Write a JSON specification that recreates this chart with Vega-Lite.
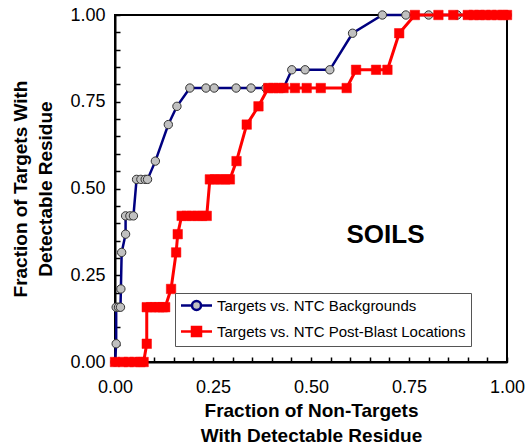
{
  "$schema": "https://vega.github.io/schema/vega-lite/v6.json",
  "width": 392,
  "height": 347,
  "autosize": {"type": "none"},
  "padding": {"left": 115, "top": 15, "right": 19, "bottom": 85},
  "background": "white",
  "config": {
    "view": {"stroke": "black", "strokeWidth": 2},
    "font": "Liberation Sans",
    "axis": {
      "grid": false,
      "domainColor": "black",
      "domainWidth": 2,
      "tickColor": "black",
      "tickWidth": 1.5,
      "tickSize": -5,
      "labelFont": "Liberation Sans",
      "labelFontSize": 18,
      "labelColor": "black",
      "titleFont": "Liberation Sans",
      "titleFontSize": 19,
      "titleFontWeight": "bold",
      "titleColor": "black",
      "titleLineHeight": 25
    }
  },
  "data": {
    "values": [
      {"series": "Targets vs. NTC Backgrounds", "i": 0, "x": 0.0, "y": 0.0},
      {"series": "Targets vs. NTC Backgrounds", "i": 1, "x": 0.003, "y": 0.0526},
      {"series": "Targets vs. NTC Backgrounds", "i": 2, "x": 0.003, "y": 0.1579},
      {"series": "Targets vs. NTC Backgrounds", "i": 3, "x": 0.009, "y": 0.1579},
      {"series": "Targets vs. NTC Backgrounds", "i": 4, "x": 0.014, "y": 0.1579},
      {"series": "Targets vs. NTC Backgrounds", "i": 5, "x": 0.015, "y": 0.2105},
      {"series": "Targets vs. NTC Backgrounds", "i": 6, "x": 0.017, "y": 0.3158},
      {"series": "Targets vs. NTC Backgrounds", "i": 7, "x": 0.027, "y": 0.3684},
      {"series": "Targets vs. NTC Backgrounds", "i": 8, "x": 0.027, "y": 0.4211},
      {"series": "Targets vs. NTC Backgrounds", "i": 9, "x": 0.038, "y": 0.4211},
      {"series": "Targets vs. NTC Backgrounds", "i": 10, "x": 0.047, "y": 0.4211},
      {"series": "Targets vs. NTC Backgrounds", "i": 11, "x": 0.055, "y": 0.5263},
      {"series": "Targets vs. NTC Backgrounds", "i": 12, "x": 0.066, "y": 0.5263},
      {"series": "Targets vs. NTC Backgrounds", "i": 13, "x": 0.077, "y": 0.5263},
      {"series": "Targets vs. NTC Backgrounds", "i": 14, "x": 0.083, "y": 0.5263},
      {"series": "Targets vs. NTC Backgrounds", "i": 15, "x": 0.103, "y": 0.5789},
      {"series": "Targets vs. NTC Backgrounds", "i": 16, "x": 0.136, "y": 0.6842},
      {"series": "Targets vs. NTC Backgrounds", "i": 17, "x": 0.158, "y": 0.7368},
      {"series": "Targets vs. NTC Backgrounds", "i": 18, "x": 0.191, "y": 0.7895},
      {"series": "Targets vs. NTC Backgrounds", "i": 19, "x": 0.232, "y": 0.7895},
      {"series": "Targets vs. NTC Backgrounds", "i": 20, "x": 0.253, "y": 0.7895},
      {"series": "Targets vs. NTC Backgrounds", "i": 21, "x": 0.309, "y": 0.7895},
      {"series": "Targets vs. NTC Backgrounds", "i": 22, "x": 0.347, "y": 0.7895},
      {"series": "Targets vs. NTC Backgrounds", "i": 23, "x": 0.385, "y": 0.7895},
      {"series": "Targets vs. NTC Backgrounds", "i": 24, "x": 0.43, "y": 0.7895},
      {"series": "Targets vs. NTC Backgrounds", "i": 25, "x": 0.451, "y": 0.8421},
      {"series": "Targets vs. NTC Backgrounds", "i": 26, "x": 0.485, "y": 0.8421},
      {"series": "Targets vs. NTC Backgrounds", "i": 27, "x": 0.548, "y": 0.8421},
      {"series": "Targets vs. NTC Backgrounds", "i": 28, "x": 0.606, "y": 0.9474},
      {"series": "Targets vs. NTC Backgrounds", "i": 29, "x": 0.682, "y": 1.0},
      {"series": "Targets vs. NTC Backgrounds", "i": 30, "x": 0.742, "y": 1.0},
      {"series": "Targets vs. NTC Backgrounds", "i": 31, "x": 0.8, "y": 1.0},
      {"series": "Targets vs. NTC Backgrounds", "i": 32, "x": 0.873, "y": 1.0},
      {"series": "Targets vs. NTC Backgrounds", "i": 33, "x": 0.93, "y": 1.0},
      {"series": "Targets vs. NTC Backgrounds", "i": 34, "x": 1.0, "y": 1.0},
      {"series": "Targets vs. NTC Post-Blast Locations", "i": 0, "x": 0.0, "y": 0.0},
      {"series": "Targets vs. NTC Post-Blast Locations", "i": 1, "x": 0.02, "y": 0.0},
      {"series": "Targets vs. NTC Post-Blast Locations", "i": 2, "x": 0.035, "y": 0.0},
      {"series": "Targets vs. NTC Post-Blast Locations", "i": 3, "x": 0.05, "y": 0.0},
      {"series": "Targets vs. NTC Post-Blast Locations", "i": 4, "x": 0.065, "y": 0.0},
      {"series": "Targets vs. NTC Post-Blast Locations", "i": 5, "x": 0.073, "y": 0.0},
      {"series": "Targets vs. NTC Post-Blast Locations", "i": 6, "x": 0.081, "y": 0.0526},
      {"series": "Targets vs. NTC Post-Blast Locations", "i": 7, "x": 0.081, "y": 0.1579},
      {"series": "Targets vs. NTC Post-Blast Locations", "i": 8, "x": 0.092, "y": 0.1579},
      {"series": "Targets vs. NTC Post-Blast Locations", "i": 9, "x": 0.103, "y": 0.1579},
      {"series": "Targets vs. NTC Post-Blast Locations", "i": 10, "x": 0.113, "y": 0.1579},
      {"series": "Targets vs. NTC Post-Blast Locations", "i": 11, "x": 0.122, "y": 0.1579},
      {"series": "Targets vs. NTC Post-Blast Locations", "i": 12, "x": 0.128, "y": 0.1579},
      {"series": "Targets vs. NTC Post-Blast Locations", "i": 13, "x": 0.143, "y": 0.2105},
      {"series": "Targets vs. NTC Post-Blast Locations", "i": 14, "x": 0.156, "y": 0.3158},
      {"series": "Targets vs. NTC Post-Blast Locations", "i": 15, "x": 0.16, "y": 0.3684},
      {"series": "Targets vs. NTC Post-Blast Locations", "i": 16, "x": 0.17, "y": 0.4211},
      {"series": "Targets vs. NTC Post-Blast Locations", "i": 17, "x": 0.183, "y": 0.4211},
      {"series": "Targets vs. NTC Post-Blast Locations", "i": 18, "x": 0.196, "y": 0.4211},
      {"series": "Targets vs. NTC Post-Blast Locations", "i": 19, "x": 0.21, "y": 0.4211},
      {"series": "Targets vs. NTC Post-Blast Locations", "i": 20, "x": 0.222, "y": 0.4211},
      {"series": "Targets vs. NTC Post-Blast Locations", "i": 21, "x": 0.234, "y": 0.4211},
      {"series": "Targets vs. NTC Post-Blast Locations", "i": 22, "x": 0.242, "y": 0.5263},
      {"series": "Targets vs. NTC Post-Blast Locations", "i": 23, "x": 0.255, "y": 0.5263},
      {"series": "Targets vs. NTC Post-Blast Locations", "i": 24, "x": 0.268, "y": 0.5263},
      {"series": "Targets vs. NTC Post-Blast Locations", "i": 25, "x": 0.281, "y": 0.5263},
      {"series": "Targets vs. NTC Post-Blast Locations", "i": 26, "x": 0.293, "y": 0.5263},
      {"series": "Targets vs. NTC Post-Blast Locations", "i": 27, "x": 0.31, "y": 0.5789},
      {"series": "Targets vs. NTC Post-Blast Locations", "i": 28, "x": 0.336, "y": 0.6842},
      {"series": "Targets vs. NTC Post-Blast Locations", "i": 29, "x": 0.366, "y": 0.7368},
      {"series": "Targets vs. NTC Post-Blast Locations", "i": 30, "x": 0.391, "y": 0.7895},
      {"series": "Targets vs. NTC Post-Blast Locations", "i": 31, "x": 0.404, "y": 0.7895},
      {"series": "Targets vs. NTC Post-Blast Locations", "i": 32, "x": 0.417, "y": 0.7895},
      {"series": "Targets vs. NTC Post-Blast Locations", "i": 33, "x": 0.43, "y": 0.7895},
      {"series": "Targets vs. NTC Post-Blast Locations", "i": 34, "x": 0.459, "y": 0.7895},
      {"series": "Targets vs. NTC Post-Blast Locations", "i": 35, "x": 0.489, "y": 0.7895},
      {"series": "Targets vs. NTC Post-Blast Locations", "i": 36, "x": 0.525, "y": 0.7895},
      {"series": "Targets vs. NTC Post-Blast Locations", "i": 37, "x": 0.591, "y": 0.7895},
      {"series": "Targets vs. NTC Post-Blast Locations", "i": 38, "x": 0.615, "y": 0.8421},
      {"series": "Targets vs. NTC Post-Blast Locations", "i": 39, "x": 0.666, "y": 0.8421},
      {"series": "Targets vs. NTC Post-Blast Locations", "i": 40, "x": 0.695, "y": 0.8421},
      {"series": "Targets vs. NTC Post-Blast Locations", "i": 41, "x": 0.725, "y": 0.9474},
      {"series": "Targets vs. NTC Post-Blast Locations", "i": 42, "x": 0.765, "y": 1.0},
      {"series": "Targets vs. NTC Post-Blast Locations", "i": 43, "x": 0.825, "y": 1.0},
      {"series": "Targets vs. NTC Post-Blast Locations", "i": 44, "x": 0.863, "y": 1.0},
      {"series": "Targets vs. NTC Post-Blast Locations", "i": 45, "x": 0.9, "y": 1.0},
      {"series": "Targets vs. NTC Post-Blast Locations", "i": 46, "x": 0.915, "y": 1.0},
      {"series": "Targets vs. NTC Post-Blast Locations", "i": 47, "x": 0.93, "y": 1.0},
      {"series": "Targets vs. NTC Post-Blast Locations", "i": 48, "x": 0.945, "y": 1.0},
      {"series": "Targets vs. NTC Post-Blast Locations", "i": 49, "x": 0.96, "y": 1.0},
      {"series": "Targets vs. NTC Post-Blast Locations", "i": 50, "x": 0.975, "y": 1.0},
      {"series": "Targets vs. NTC Post-Blast Locations", "i": 51, "x": 0.99, "y": 1.0},
      {"series": "Targets vs. NTC Post-Blast Locations", "i": 52, "x": 1.0, "y": 1.0}
    ]
  },
  "encoding": {
    "x": {
      "field": "x", "type": "quantitative",
      "scale": {"domain": [0, 1], "nice": false, "zero": false},
      "axis": {
        "values": [0, 0.05, 0.1, 0.15, 0.2, 0.25, 0.3, 0.35, 0.4, 0.45, 0.5, 0.55, 0.6, 0.65, 0.7, 0.75, 0.8, 0.85, 0.9, 0.95, 1],
        "labelExpr": "(round(datum.value*100) % 25 == 0) ? format(datum.value, '.2f') : ''",
        "labelPadding": 21,
        "labelFlush": false,
        "labelOverlap": false,
        "title": ["Fraction of Non-Targets", "With Detectable Residue"],
        "titleX": 196,
        "titleY": 39,
        "titleAnchor": "middle",
        "titleAlign": "center",
        "titleBaseline": "top"
      }
    },
    "y": {
      "field": "y", "type": "quantitative",
      "scale": {"domain": [0, 1], "nice": false, "zero": false},
      "axis": {
        "values": [0, 0.05, 0.1, 0.15, 0.2, 0.25, 0.3, 0.35, 0.4, 0.45, 0.5, 0.55, 0.6, 0.65, 0.7, 0.75, 0.8, 0.85, 0.9, 0.95, 1],
        "labelExpr": "(round(datum.value*100) % 25 == 0) ? format(datum.value, '.2f') : ''",
        "labelPadding": 15,
        "labelFlush": false,
        "labelOverlap": false,
        "title": ["Fraction of Targets With", "Detectable Residue"],
        "titleAngle": -90,
        "titleX": -84.5,
        "titleY": 173.5,
        "titleAlign": "center",
        "titleBaseline": "bottom"
      }
    }
  },
  "layer": [
    {
      "transform": [{"filter": "datum.series === 'Targets vs. NTC Backgrounds'"}],
      "mark": {"type": "line", "strokeWidth": 2.5},
      "encoding": {
        "order": {"field": "i", "type": "quantitative"},
        "color": {
          "field": "series", "type": "nominal",
          "scale": {"domain": ["Targets vs. NTC Backgrounds", "Targets vs. NTC Post-Blast Locations"], "range": ["#000080", "#ff0000"]},
          "legend": {
            "orient": "none",
            "legendX": 60,
            "legendY": 278,
            "title": null,
            "padding": 5,
            "fillColor": "white",
            "strokeColor": "#555555",
            "rowPadding": 7,
            "symbolOffset": 9,
            "labelOffset": 13,
            "symbolSize": 100,
            "symbolStrokeWidth": 2.5,
            "labelFont": "Liberation Sans",
            "labelFontSize": 15,
            "labelColor": "black",
            "labelLimit": 400,
            "symbolType": "M-3.1,0H3.1M-0.9,-0.9H0.9V0.9H-0.9Z",
            "encode": {
              "symbols": {
                "update": {
                  "shape": {"signal": "datum.value === 'Targets vs. NTC Backgrounds' ? 'M-3.1,0H-0.9M0.9,0H3.1M-0.9,0A0.9,0.9,0,1,1,0.9,0A0.9,0.9,0,1,1,-0.9,0Z' : 'M-3.1,0H3.1M-0.9,-0.9H0.9V0.9H-0.9Z'"},
                  "fill": {"signal": "datum.value === 'Targets vs. NTC Backgrounds' ? '#c0c0c0' : '#ff0000'"},
                  "stroke": {"signal": "datum.value === 'Targets vs. NTC Backgrounds' ? '#000080' : '#ff0000'"},
                  "fillOpacity": {"value": 1},
                  "opacity": {"value": 1}
                }
              }
            }
          }
        }
      }
    },
    {
      "transform": [{"filter": "datum.series === 'Targets vs. NTC Backgrounds'"}],
      "mark": {"type": "point", "shape": "circle", "filled": true, "fill": "#c0c0c0", "stroke": "#333333", "strokeWidth": 1, "size": 70, "opacity": 1}
    },
    {
      "transform": [{"filter": "datum.series === 'Targets vs. NTC Post-Blast Locations'"}],
      "mark": {"type": "line", "strokeWidth": 3},
      "encoding": {
        "order": {"field": "i", "type": "quantitative"},
        "color": {
          "field": "series", "type": "nominal",
          "scale": {"domain": ["Targets vs. NTC Backgrounds", "Targets vs. NTC Post-Blast Locations"], "range": ["#000080", "#ff0000"]}
        }
      }
    },
    {
      "transform": [{"filter": "datum.series === 'Targets vs. NTC Post-Blast Locations'"}],
      "mark": {"type": "point", "shape": "square", "filled": true, "fill": "#ff0000", "stroke": "#ff0000", "strokeWidth": 0.5, "size": 90, "opacity": 1}
    },
    {
      "data": {"values": [{"label": "SOILS", "x": 0.69, "y": 0.367}]},
      "mark": {"type": "text", "font": "Liberation Sans", "fontSize": 26, "fontWeight": "bold", "color": "black", "align": "center", "baseline": "middle"},
      "encoding": {"text": {"field": "label", "type": "nominal"}}
    }
  ]
}
